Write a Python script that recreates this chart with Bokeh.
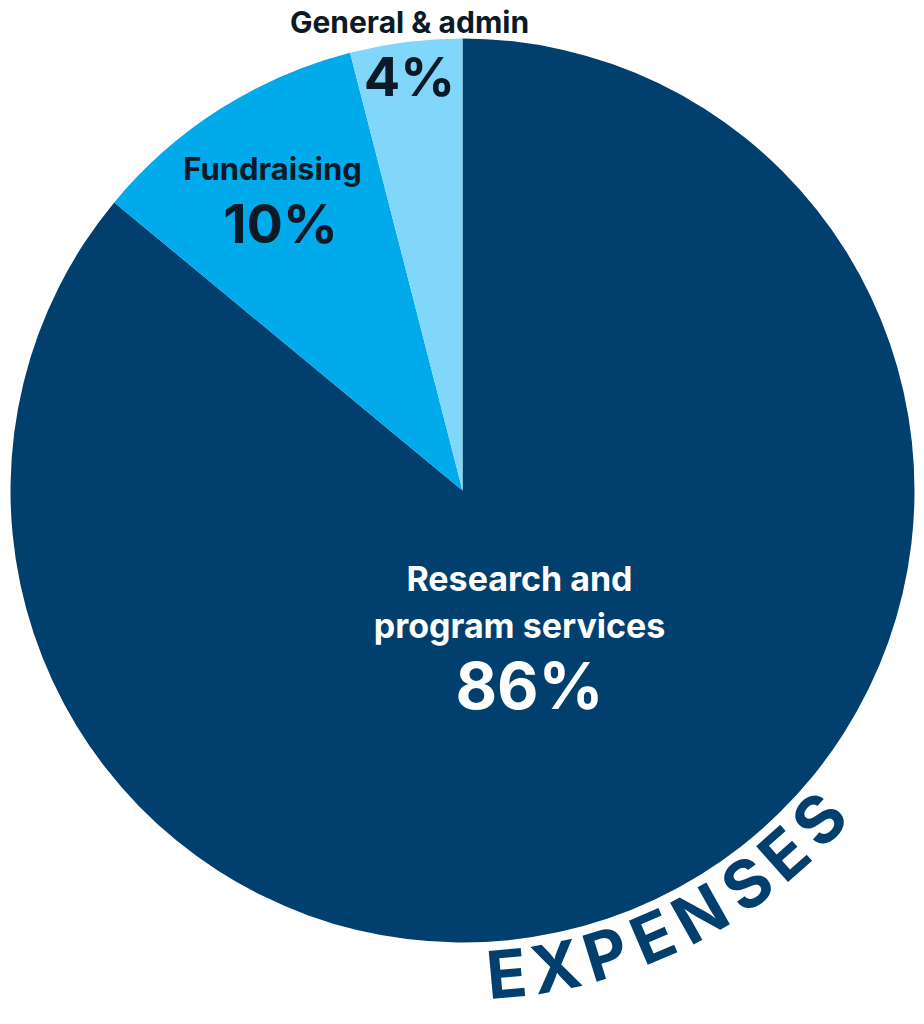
import numpy as np
from bokeh.plotting import figure
from bokeh.models import ColumnDataSource, Range1d
from bokeh.core.properties import value
from bokeh.embed import file_html
from bokeh.resources import INLINE

# ---- data ----
categories = ["Research and program services", "Fundraising", "General & admin"]
percents = [86, 10, 4]
colors = ["#003f6e", "#00aaeb", "#80d7f9"]
title = "EXPENSES"

W, H = 916, 1016
def X(sx):
    return sx
def Y(sy):
    return H - sy

p = figure(width=W, height=H, output_backend="svg", toolbar_location=None,
           x_range=Range1d(0, W), y_range=Range1d(0, H), min_border=0)
p.axis.visible = False
p.grid.visible = False
p.outline_line_color = None
p.background_fill_color = "white"

cx, cy, R = X(462), Y(490), 452
frac = np.array(percents, dtype=float) / sum(percents)
cum = np.concatenate([[0], np.cumsum(frac)])
start = 90 - cum[:-1] * 360
end = 90 - cum[1:] * 360
src = ColumnDataSource(dict(start=start, end=end, color=colors, cat=categories))
p.wedge(x=cx, y=cy, radius=R, start_angle="start", end_angle="end",
        start_angle_units="deg", end_angle_units="deg", direction="clock",
        fill_color="color", line_color=None, source=src)

FONT = value("Inter")
dark = "#0b1a26"

def label(sx, sy, txt, size, color):
    p.text(x=[X(sx)], y=[Y(sy)], text=[txt], text_font=FONT, text_font_style="bold",
           text_font_size=f"{size}px", text_color=color, text_align="center",
           text_baseline="middle")

label(409, 21, categories[2], 30, dark)
label(409, 76, f"{percents[2]}%", 54, dark)
label(272, 168, categories[1], 31, dark)
label(280, 223, f"{percents[1]}%", 54, dark)
label(519, 578, "Research and", 34, "white")
label(519, 625, "program services", 34, "white")
label(529, 685, f"{percents[0]}%", 64, "white")

# curved title along the circle
ang = np.array([-84.8, -78.9, -72.8, -66.9, -60.7, -54.1, -48.5, -42.7])
rr = 485
tx = cx + rr * np.cos(np.radians(ang))
ty = cy + rr * np.sin(np.radians(ang))
p.text(x=tx, y=ty, text=list(title), angle=np.radians(ang + 90),
       text_font=FONT, text_font_style="bold", text_font_size="66px",
       text_color="#003f6e", text_align="center", text_baseline="middle")

open("out.html", "w").write(file_html(p, INLINE))
